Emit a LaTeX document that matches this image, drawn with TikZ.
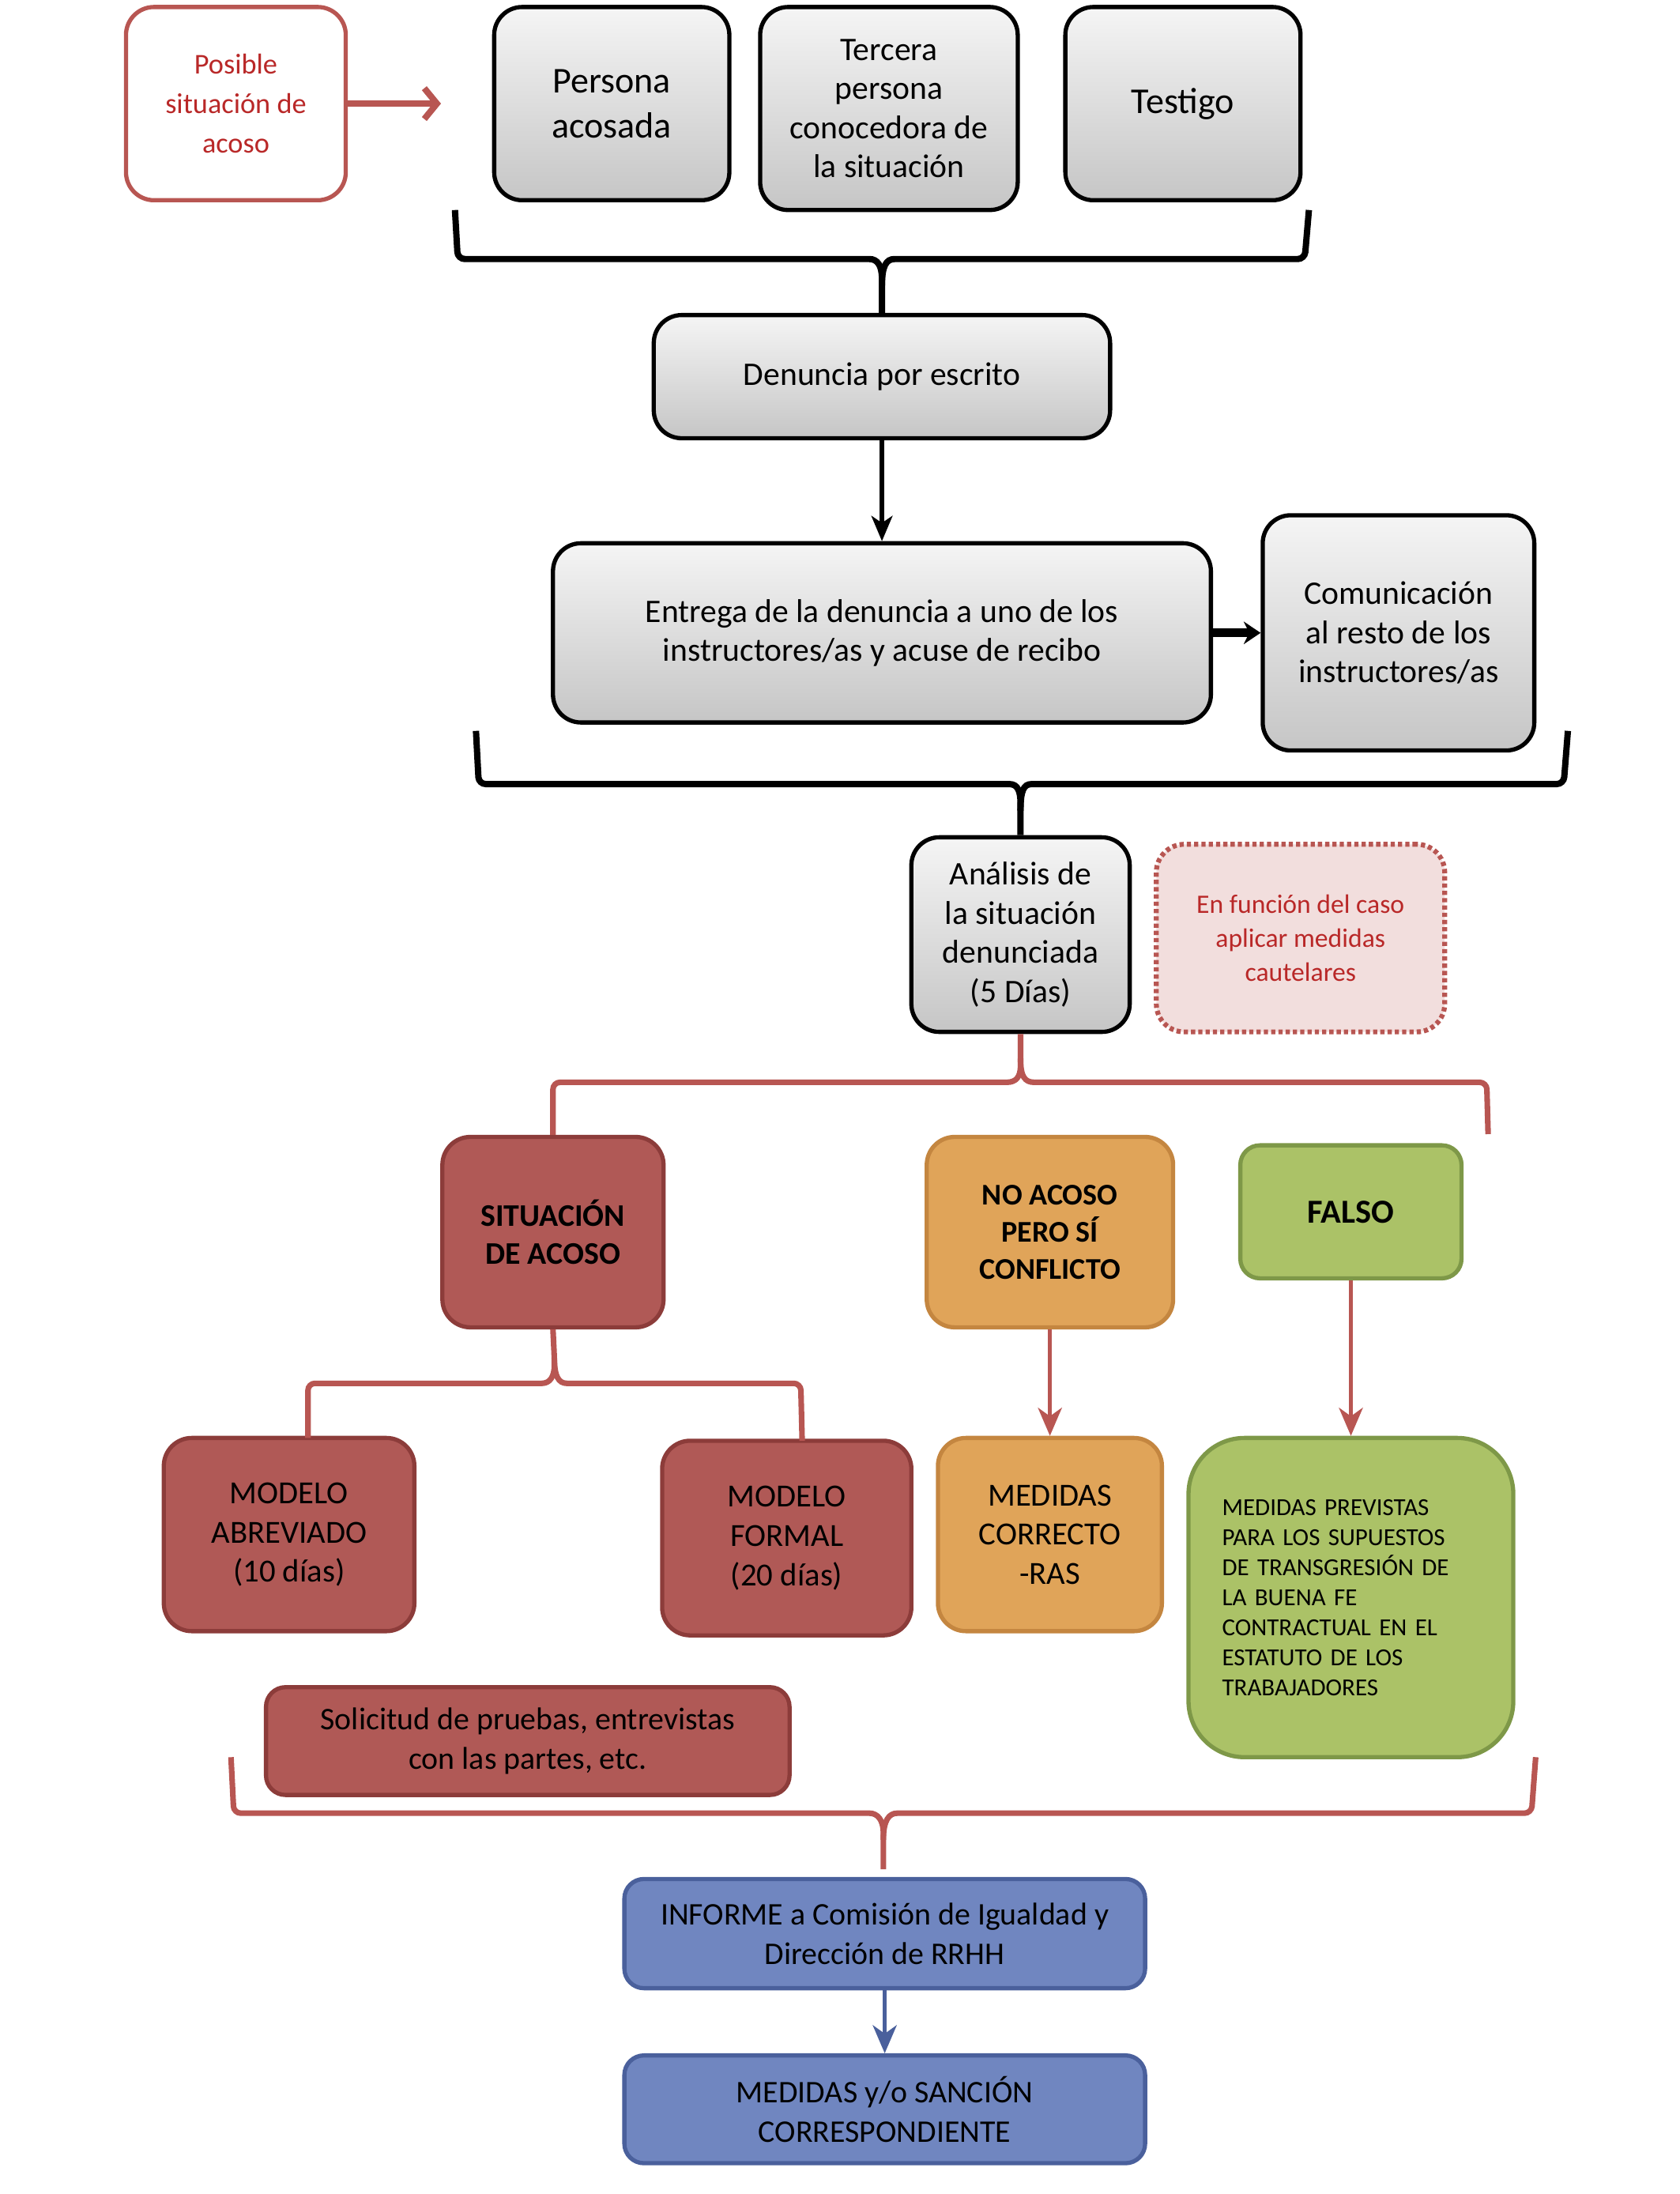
\documentclass[tikz,border=0pt]{standalone}
\usepackage{fontspec}
\setmainfont{Carlito}
\usetikzlibrary{arrows, arrows.meta, positioning}

\definecolor{redfill}{RGB}{176,89,86}
\definecolor{redline}{RGB}{140,60,58}
\definecolor{bracered}{RGB}{184,86,82}
\definecolor{redtext}{RGB}{185,40,40}
\definecolor{pinkfill}{RGB}{242,222,221}
\definecolor{orangefill}{RGB}{224,164,89}
\definecolor{orangeline}{RGB}{196,134,64}
\definecolor{greenfill}{RGB}{171,194,103}
\definecolor{greenline}{RGB}{126,152,72}
\definecolor{bluefill}{RGB}{112,134,192}
\definecolor{blueline}{RGB}{74,96,156}

\begin{document}
\begin{tikzpicture}[>= stealth', x=1pt, y=-1pt]
          \tikzstyle{box}=[rectangle, rounded corners=20pt, line width=3pt, align=center, inner sep=0pt]
          \tikzstyle{grey}=[box, draw=black, top color=gray!8, bottom color=gray!45]
          \tikzstyle{redbox}=[box, draw=redline, fill=redfill]
          \tikzstyle{orangebox}=[box, draw=orangeline, fill=orangefill]
          \tikzstyle{greenbox}=[box, draw=greenline, fill=greenfill]
          \tikzstyle{bluebox}=[box, draw=blueline, fill=bluefill, rounded corners=14pt]
          \tikzstyle{bracek}=[line width=4.5pt, draw=black, rounded corners=5pt]
          \tikzstyle{bracer}=[line width=4pt, draw=bracered, rounded corners=5pt]
          \tikzstyle{txt}=[font=\fontsize{23.5}{28}\selectfont]

          \useasboundingbox (0,0) rectangle (1200,1567);

          % top row
          \node[box, draw=bracered, fill=white, text=redtext, minimum width=157pt, minimum height=138pt,
                font=\fontsize{20.5}{28}\selectfont] (Pos) at (168.5,74) {Posible\\situación de\\acoso};
          \node[grey, minimum width=168pt, minimum height=138pt, font=\fontsize{26}{32}\selectfont] (PA) at (437,74) {Persona\\acosada};
          \node[grey, txt, minimum width=184pt, minimum height=145pt] (TP) at (635,77.5) {Tercera\\persona\\conocedora de\\la situación};
          \node[grey, minimum width=168pt, minimum height=138pt, font=\fontsize{26}{32}\selectfont] (Te) at (845,74) {Testigo};
          \coordinate (PosA) at (315,74);

          \node[grey, txt, minimum width=326pt, minimum height=88pt] (Den) at (630,269) {Denuncia por escrito};
          \node[grey, txt, minimum width=470pt, minimum height=128pt] (Ent) at (630,452) {Entrega de la denuncia a uno de los\\instructores/as y acuse de recibo};
          \node[grey, txt, minimum width=194pt, minimum height=168pt] (Com) at (999,452) {Comunicación\\al resto de los\\instructores/as};

          \node[grey, txt, minimum width=156pt, minimum height=139pt] (An) at (729,667.5) {Análisis de\\la situación\\denunciada\\(5 Días)};
          \node[box, draw=bracered, fill=pinkfill, text=redtext, dash pattern=on 3pt off 2.2pt, line width=3.5pt,
                minimum width=206pt, minimum height=134pt, font=\fontsize{19}{24}\selectfont] (Caut) at (929,670) {En función del caso\\aplicar medidas\\cautelares};

          % resultado del analisis
          \node[redbox, minimum width=158pt, minimum height=136pt, font=\bfseries\fontsize{22.5}{27}\selectfont] (Sit) at (395,880) {SITUACIÓN\\DE ACOSO};
          \node[orangebox, minimum width=176pt, minimum height=136pt, font=\bfseries\fontsize{21.5}{26.5}\selectfont] (NoA) at (750,880) {NO ACOSO\\PERO SÍ\\CONFLICTO};
          \node[greenbox, minimum width=158pt, minimum height=95pt, rounded corners=14pt, font=\bfseries\fontsize{24}{28}\selectfont] (Fal) at (965,865.5) {FALSO};

          \node[redbox, minimum width=179pt, minimum height=138pt, font=\fontsize{23}{28}\selectfont] (MA) at (206.5,1096) {MODELO\\ABREVIADO\\(10 días)};
          \node[redbox, minimum width=178pt, minimum height=139pt, font=\fontsize{23}{28}\selectfont] (MF) at (562,1098.5) {MODELO\\FORMAL\\(20 días)};
          \node[orangebox, minimum width=160pt, minimum height=138pt, font=\fontsize{23}{28}\selectfont] (MC) at (750,1096) {MEDIDAS\\CORRECTO\\-RAS};
          \node[greenbox, minimum width=232pt, minimum height=228pt, rounded corners=40pt, align=left,
                text width=184pt, font=\fontsize{17.5}{21.5}\selectfont] (MP) at (965,1141)
                {MEDIDAS PREVISTAS\\PARA LOS SUPUESTOS\\DE TRANSGRESIÓN DE\\LA BUENA FE\\CONTRACTUAL EN EL\\ESTATUTO DE LOS\\TRABAJADORES};
          \node[redbox, rounded corners=14pt, minimum width=374pt, minimum height=77pt, font=\fontsize{22.5}{28}\selectfont] (Sol) at (377,1243.5) {Solicitud de pruebas, entrevistas\\con las partes, etc.};

          % informe final
          \node[bluebox, minimum width=372pt, minimum height=78pt, font=\fontsize{22.5}{28}\selectfont] (Inf) at (632,1381) {INFORME a Comisión de Igualdad y\\Dirección de RRHH};
          \node[bluebox, minimum width=372pt, minimum height=77pt, font=\fontsize{22.5}{28}\selectfont] (San) at (632,1506.5) {MEDIDAS y/o SANCIÓN\\CORRESPONDIENTE};

          % flechas
          \draw[line width=4.5pt, draw=bracered, -{Straight Barb[length=9pt, width=22pt]}] (Pos) -- (PosA);
          \draw[line width=3pt, -{Stealth[length=18pt, width=15pt, inset=5pt]}] (Den) -- (Ent);
          \draw[line width=6pt, -{Stealth[length=12pt, width=16pt]}] (Ent) -- (Com);
          \draw[line width=3pt, draw=bracered, -{Stealth[length=20pt, width=17pt, inset=6pt]}] (NoA) -- (MC);
          \draw[line width=3pt, draw=bracered, -{Stealth[length=20pt, width=17pt, inset=6pt]}] (Fal) -- (MP);
          \draw[line width=3pt, draw=blueline, -{Stealth[length=20pt, width=17pt, inset=6pt]}] (Inf) -- (San);

          % llaves
          \draw[bracek] (325,150) -- (327,185) -- (616,185) .. controls (627,185) and (630,190) .. (630,204) -- (Den.north);
          \draw[bracek] (935,150) -- (932,185) -- (644,185) .. controls (633,185) and (630,190) .. (630,204);
          \draw[bracek] (340,522) -- (342,560) -- (716,560) .. controls (727,560) and (729,565) .. (729,579) -- (An.north);
          \draw[bracek] (1120,522) -- (1117,560) -- (742,560) .. controls (731,560) and (729,565) .. (729,579);

          \draw[bracer] (An.south) -- (729,756) .. controls (729,769) and (726,773) .. (714,773) -- (395,773) -- (Sit.north);
          \draw[bracer] (729,756) .. controls (729,769) and (732,773) .. (744,773) -- (1062,773) -- (1063,810);
          \draw[bracer] (Sit.south) -- (396,970) .. controls (396,983) and (393,988) .. (382,988) -- (220,988) -- (220,1027);
          \draw[bracer] (396,970) .. controls (396,983) and (399,988) .. (410,988) -- (572,988) -- (573,1029);
          \draw[bracer] (165,1255) -- (167,1295) -- (616,1295) .. controls (627,1295) and (631,1300) .. (631,1314) -- (631,1335);
          \draw[bracer] (1097,1255) -- (1094,1295) -- (646,1295) .. controls (635,1295) and (631,1300) .. (631,1314);

        \end{tikzpicture}
\end{document}
